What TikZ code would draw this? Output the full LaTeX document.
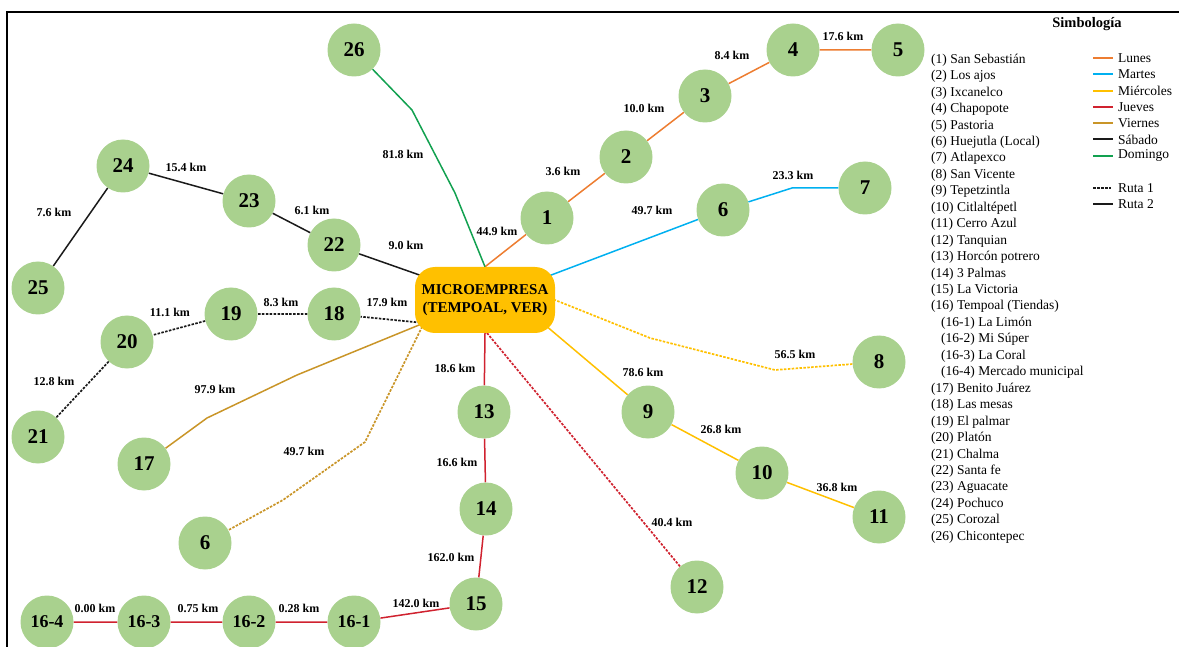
\documentclass[tikz,border=0pt]{standalone}
\usepackage{fontspec}
\setmainfont{Liberation Serif}
\usetikzlibrary{backgrounds,calc}
\definecolor{lunes}{HTML}{ED7D31}
\definecolor{martes}{HTML}{00B0F0}
\definecolor{miercoles}{HTML}{FFC000}
\definecolor{jueves}{HTML}{D0222F}
\definecolor{viernes}{HTML}{C99528}
\definecolor{sabado}{HTML}{1A1A1A}
\definecolor{domingo}{HTML}{12A150}
\definecolor{nodegreen}{HTML}{A9D18E}
\definecolor{boxgold}{HTML}{FFC000}
\begin{document}
\begin{tikzpicture}[x=1pt,y=-1pt,
  stop/.style={circle,fill=nodegreen,minimum size=53pt,inner sep=0pt,font=\fontsize{21}{21}\selectfont\bfseries},
  substop/.style={stop,font=\fontsize{18}{18}\selectfont\bfseries},
  hub/.style={rectangle,rounded corners=20pt,fill=boxgold,minimum width=140pt,minimum height=66pt,inner sep=0pt,align=center,font=\fontsize{15}{18}\selectfont\bfseries},
  km/.style={font=\fontsize{12}{12}\selectfont\bfseries,inner sep=0pt},
  route/.style={line width=1.5pt},
  rutaone/.style={line width=1.7pt,dash pattern=on 2.5pt off 1.4pt},
  leg/.style={anchor=west,inner sep=0pt,font=\fontsize{13.5}{14}\selectfont},
]
\useasboundingbox (0,0) rectangle (1179,647);
% frame
\coordinate (fA) at (1179,12);
\coordinate (fB) at (7,12);
\coordinate (fC) at (7,648);
\draw[line width=2pt] (fA) -- (fB) -- (fC);

% hub
\node[hub] (box) at (485,300) {MICROEMPRESA\\(TEMPOAL, VER)};

% stops
\node[stop] (n1) at (547,218) {1};
\node[stop] (n2) at (626,157) {2};
\node[stop] (n3) at (705,96) {3};
\node[stop] (n4) at (793,50) {4};
\node[stop] (n5) at (898,50) {5};
\node[stop] (n6) at (723,210) {6};
\node[stop] (n7) at (865,188) {7};
\node[stop] (n8) at (879,362) {8};
\node[stop] (n9) at (648,412) {9};
\node[stop] (n10) at (762,473) {10};
\node[stop] (n11) at (879,517) {11};
\node[stop] (n12) at (697,587) {12};
\node[stop] (n13) at (484,412) {13};
\node[stop] (n14) at (486,509) {14};
\node[stop] (n15) at (476,604) {15};
\node[substop] (n161) at (354,622) {16-1};
\node[substop] (n162) at (249,622) {16-2};
\node[substop] (n163) at (144,622) {16-3};
\node[substop] (n164) at (47,622) {16-4};
\node[stop] (n17) at (144,464) {17};
\node[stop] (n6b) at (205,543) {6};
\node[stop] (n18) at (334,314) {18};
\node[stop] (n19) at (231,314) {19};
\node[stop] (n20) at (127,342) {20};
\node[stop] (n21) at (38,437) {21};
\node[stop] (n22) at (334,245) {22};
\node[stop] (n23) at (249,201) {23};
\node[stop] (n24) at (123,166) {24};
\node[stop] (n25) at (38,288) {25};
\node[stop] (n26) at (354,50) {26};

% connectors
\begin{pgfonlayer}{background}
\coordinate (bN) at (box.north);
\coordinate (bS) at (box.south);
\coordinate (bS2) at (487,333);
\coordinate (bNE) at (546,277);
\coordinate (bE) at (550,298);
\coordinate (bSE) at (545,325);
\coordinate (bSW) at (424,323);
\coordinate (bNW) at (428,278);
\coordinate (g1) at (455,193);
\coordinate (g2) at (412,110);
\coordinate (m1) at (792,188);
\coordinate (w1) at (650,338);
\coordinate (w2) at (775,370);
\coordinate (v1) at (297,375);
\coordinate (v2) at (207,418);
\coordinate (v3) at (365,442);
\coordinate (v4) at (283,500);
\draw[route,lunes] (bN) -- (n1) -- (n2) -- (n3) -- (n4) -- (n5);
\draw[route,domingo] (bN) -- (g1) -- (g2) -- (n26);
\draw[route,martes] (bNE) -- (n6) -- (m1) -- (n7);
\draw[rutaone,miercoles] (bE) -- (w1) -- (w2) -- (n8);
\draw[route,miercoles] (bSE) -- (n9) -- (n10) -- (n11);
\draw[route,jueves] (bS) -- (n13) -- (n14) -- (n15) -- (n161) -- (n162) -- (n163) -- (n164);
\draw[rutaone,jueves] (bS2) -- (n12);
\draw[route,viernes] (bSW) -- (v1) -- (v2) -- (n17);
\draw[rutaone,viernes] (bSW) -- (v3) -- (v4) -- (n6b);
\draw[rutaone,sabado] (bSW) -- (n18) -- (n19) -- (n20) -- (n21);
\draw[route,sabado] (bNW) -- (n22) -- (n23) -- (n24) -- (n25);
\end{pgfonlayer}

% distance labels
\node[km] (k1) at (497,231) {44.9 km};
\node[km] (k2) at (563,171) {3.6 km};
\node[km] (k3) at (644,108) {10.0 km};
\node[km] (k4) at (732,55) {8.4 km};
\node[km] (k5) at (843,36) {17.6 km};
\node[km] (k6) at (652,210) {49.7 km};
\node[km] (k7) at (793,175) {23.3 km};
\node[km] (k8) at (795,354) {56.5 km};
\node[km] (k9) at (643,372) {78.6 km};
\node[km] (k10) at (721,429) {26.8 km};
\node[km] (k11) at (837,487) {36.8 km};
\node[km] (k12) at (672,522) {40.4 km};
\node[km] (k13) at (455,368) {18.6 km};
\node[km] (k14) at (457,462) {16.6 km};
\node[km] (k15) at (451,557) {162.0 km};
\node[km] (k161) at (416,603) {142.0 km};
\node[km] (k162) at (299,608) {0.28 km};
\node[km] (k163) at (198,608) {0.75 km};
\node[km] (k164) at (95,608) {0.00 km};
\node[km] (k6b) at (304,451) {49.7 km};
\node[km] (k17) at (215,389) {97.9 km};
\node[km] (k21) at (54,381) {12.8 km};
\node[km] (k20) at (170,312) {11.1 km};
\node[km] (k19) at (281,302) {8.3 km};
\node[km] (k18) at (387,302) {17.9 km};
\node[km] (k22) at (406,245) {9.0 km};
\node[km] (k23) at (312,210) {6.1 km};
\node[km] (k24) at (186,167) {15.4 km};
\node[km] (k25) at (54,212) {7.6 km};
\node[km] (k26) at (403,154) {81.8 km};

% legend
\node[font=\fontsize{14.5}{15}\selectfont\bfseries] (simb) at (1087,24) {Simbología};
\foreach \t [count=\i from 0] in {{(1) San Sebastián},{(2) Los ajos},{(3) Ixcanelco},{(4) Chapopote},{(5) Pastoria},{(6) Huejutla (Local)},{(7) Atlapexco},{(8) San Vicente},{(9) Tepetzintla},{(10) Citlaltépetl},{(11) Cerro Azul},{(12) Tanquian},{(13) Horcón potrero},{(14) 3 Palmas},{(15) La Victoria},{(16) Tempoal (Tiendas)},{\hspace*{10pt}(16-1) La Limón},{\hspace*{10pt}(16-2) Mi Súper},{\hspace*{10pt}(16-3) La Coral},{\hspace*{10pt}(16-4) Mercado municipal},{(17) Benito Juárez},{(18) Las mesas},{(19) El palmar},{(20) Platón},{(21) Chalma},{(22) Santa fe},{(23) Aguacate},{(24) Pochuco},{(25) Corozal},{(26) Chicontepec}}
  \node[leg] (li\i) at (931,{60+16.45*\i}) {\t};
\foreach \c/\t [count=\i from 0] in {lunes/Lunes,martes/Martes,miercoles/Miércoles,jueves/Jueves,viernes/Viernes,sabado/Sábado,domingo/Domingo}{
  \coordinate (la\i) at (1093,{58+16.3*\i});
  \coordinate (lb\i) at (1113,{58+16.3*\i});
  \draw[\c,line width=2pt] (la\i) -- (lb\i);
  \node[leg] (lt\i) at (1118,{58+16.3*\i}) {\t};
}
\coordinate (ra1) at (1093,188);
\coordinate (rb1) at (1111,188);
\coordinate (ra2) at (1093,204);
\coordinate (rb2) at (1113,204);
\draw[sabado,line width=2pt,dash pattern=on 2.5pt off 1.5pt] (ra1) -- (rb1);
\draw[sabado,line width=2pt] (ra2) -- (rb2);
\node[leg] (rt1) at (1118,188) {Ruta 1};
\node[leg] (rt2) at (1118,204) {Ruta 2};
\end{tikzpicture}
\end{document}
